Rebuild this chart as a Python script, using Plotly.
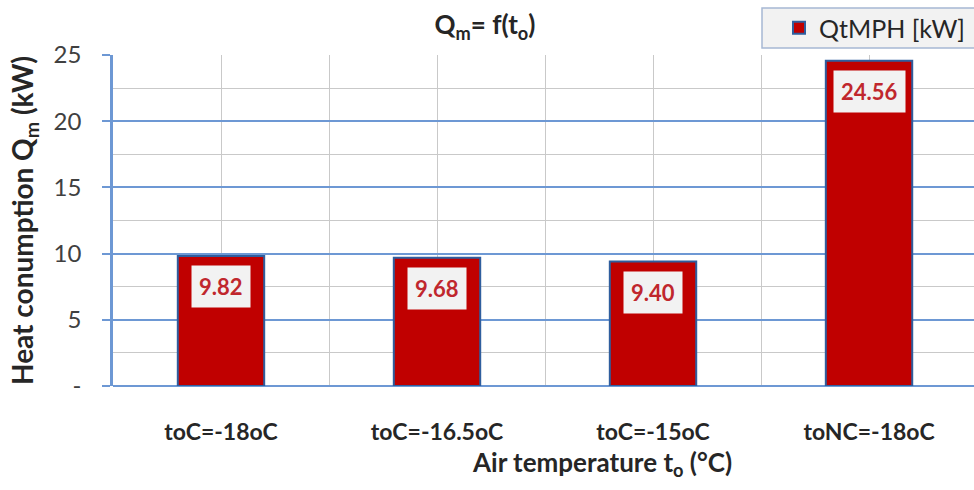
import plotly.graph_objects as go

categories = ["toC=-18oC", "toC=-16.5oC", "toC=-15oC", "toNC=-18oC"]
values = [9.82, 9.68, 9.40, 24.56]
series_name = "QtMPH [kW]"
y_ticks = [0, 5, 10, 15, 20, 25]
y_ticktext = ["-", "5", "10", "15", "20", "25"]

FONT = "Lato"
BLUE = "#6D98D4"
GREY = "#C9C9C9"
RED = "#C00000"

L, R, T, B = 113, 0, 55, 104
W, H = 974, 490
PW, PH = W - L - R, H - T - B


def px_x(p):
    return (p - L) / PW


def px_y(p):
    return 1 - (p - T) / PH


xpos = list(range(len(categories)))

fig = go.Figure()
fig.add_trace(go.Bar(
    x=xpos, y=values, name=series_name, width=0.4,
    marker=dict(color=RED, line=dict(color="#2F5E9E", width=2)),
    showlegend=True,
))

for x, v in zip(xpos, values):
    fig.add_annotation(
        x=x, y=v, xref="x", yref="y", text=f"<b>{v:.2f}</b>",
        showarrow=False, yanchor="top", yshift=-9,
        font=dict(family=FONT, size=22, color="#C0272D"),
        bgcolor="#F2F2F2", borderpad=7,
    )

fig.update_xaxes(
    range=[-0.5, 3.486], tickmode="array", tickvals=xpos,
    ticktext=[f"<b>{c}</b>" for c in categories],
    showgrid=True, gridcolor=GREY, gridwidth=1,
    minor=dict(tick0=-0.5, dtick=0.5, showgrid=True, gridcolor=GREY, gridwidth=1, ticks=""),
    showline=False, zeroline=False, ticks="", ticklabelstandoff=30,
    tickfont=dict(family=FONT, size=23, color="#262626"),
)
fig.update_yaxes(
    range=[0, 25], tickmode="array", tickvals=y_ticks, ticktext=y_ticktext,
    showgrid=True, gridcolor=BLUE, gridwidth=1.5,
    minor=dict(dtick=2.5, showgrid=True, gridcolor=GREY, gridwidth=1, ticks=""),
    showline=True, linecolor=BLUE, linewidth=2.5,
    ticks="outside", ticklen=8, tickcolor=BLUE, tickwidth=2,
    ticklabelstandoff=16,
    zeroline=True, zerolinecolor=BLUE, zerolinewidth=2,
    tickfont=dict(family=FONT, size=24, color="#404040"),
    title=dict(text="<b>Heat conumption Q<sub>m</sub> (kW)</b>",
               font=dict(family=FONT, size=28, color="#262626"), standoff=12),
)

fig.add_annotation(
    x=px_x(602), y=px_y(463), xref="paper", yref="paper",
    showarrow=False, yanchor="middle",
    text="<b>Air temperature t<sub>o</sub> (°C)</b>",
    font=dict(family=FONT, size=26, color="#262626"),
)

# legend frame
fig.add_shape(
    type="rect", xref="paper", yref="paper",
    x0=px_x(762), x1=px_x(985), y0=px_y(48), y1=px_y(8),
    fillcolor="#F2F2F2", line=dict(color="#A6B8D4", width=1.5), layer="above",
)

fig.update_layout(
    width=W, height=H,
    margin=dict(l=L, r=R, t=T, b=B),
    paper_bgcolor="white", plot_bgcolor="white",
    title=dict(text="<b>Q<sub>m</sub>= f(t<sub>o</sub>)</b>", x=485 / W, xanchor="center",
               y=1 - 25 / H, yanchor="middle",
               font=dict(family=FONT, size=26, color="#262626")),
    legend=dict(
        x=px_x(779), y=px_y(28), xanchor="left", yanchor="middle",
        bgcolor="rgba(0,0,0,0)", borderwidth=0,
        font=dict(family=FONT, size=25, color="#262626"),
        itemwidth=30,
    ),
    bargap=0.6,
)

fig.write_html("out.html")
